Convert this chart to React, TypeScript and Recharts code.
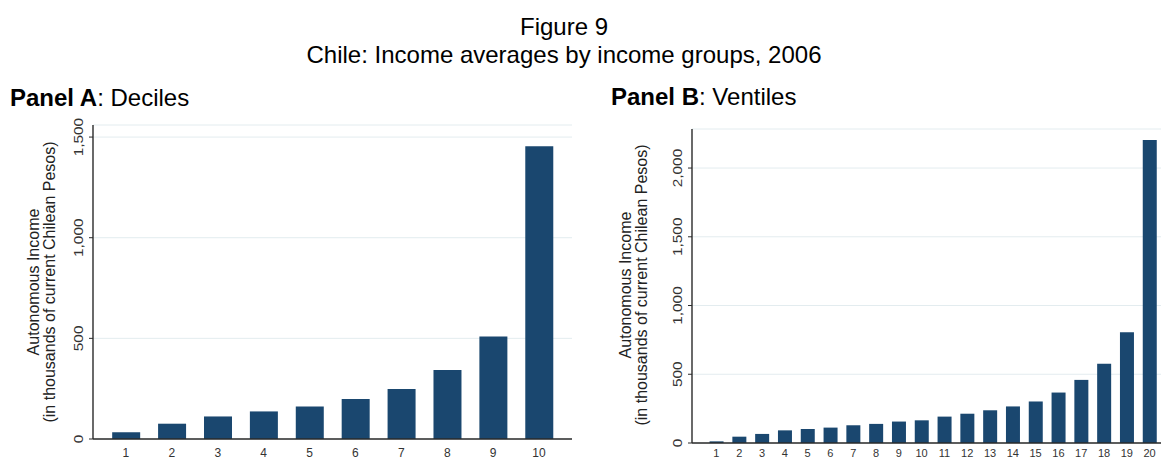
import React from 'react';
import { BarChart, Bar, XAxis, YAxis, CartesianGrid } from 'recharts';

const decileLabels = ['1', '2', '3', '4', '5', '6', '7', '8', '9', '10'];
const decileIncome = [33, 76, 112, 137, 162, 199, 248, 343, 509, 1455];

const ventileLabels = ['1', '2', '3', '4', '5', '6', '7', '8', '9', '10', '11', '12', '13', '14', '15', '16', '17', '18', '19', '20'];
const ventileIncome = [12, 46, 66, 92, 102, 112, 129, 139, 156, 165, 192, 213, 238, 266, 302, 367, 459, 576, 805, 2204];

const decileTicks = [0, 500, 1000, 1500];
const ventileTicks = [0, 500, 1000, 1500, 2000];

const titleLine1 = 'Figure 9';
const titleLine2 = 'Chile: Income averages by income groups, 2006';
const yTitle1 = 'Autonomous Income';
const yTitle2 = '(in thousands of current Chilean Pesos)';

const FONT = '"Liberation Sans", Arial, sans-serif';
const BAR = '#1a476f';
const AXIS = '#2a2a2a';
const GRID = '#e3ecef';

const decileData = decileLabels.map((g, i) => ({ group: g, value: decileIncome[i] }));
const ventileData = ventileLabels.map((g, i) => ({ group: g, value: ventileIncome[i] }));

const fmt = (v: number) => v.toLocaleString('en-US');

const RotTick = (props: any) => {
  const { x, y, payload } = props;
  return (
    <g transform={`translate(${x - 8},${y}) rotate(-90) scale(1.1,0.9)`}>
      <text textAnchor="middle" dominantBaseline="central" fontSize={14} fill="#333" fontFamily={FONT}>
        {fmt(payload.value)}
      </text>
    </g>
  );
};

export default function App() {
  return (
    <div style={{ position: 'absolute', left: 0, top: 0, width: 1161, height: 459, background: '#fff', overflow: 'hidden', fontFamily: FONT }}>
      <div style={{ position: 'absolute', left: 0, top: 0 }}>
        <BarChart width={580} height={459} data={decileData} margin={{ top: 125, right: 8, bottom: 0, left: 33 }} barCategoryGap="20%">
          <CartesianGrid horizontal={true} vertical={false} stroke={GRID} strokeWidth={1} />
          <XAxis
            dataKey="group"
            height={20}
            padding={{ left: 10, right: 10 }}
            tickLine={false}
            tickSize={6}
            tickMargin={3}
            axisLine={{ stroke: AXIS, strokeWidth: 1.4 }}
            tick={{ fontSize: 12, fill: '#333', fontFamily: FONT }}
            interval={0}
          />
          <YAxis
            width={60}
            domain={[0, 1560]}
            ticks={decileTicks}
            tickSize={4}
            tickMargin={2}
            tickLine={{ stroke: AXIS }}
            axisLine={{ stroke: AXIS, strokeWidth: 1.4 }}
            tick={<RotTick />}
            allowDataOverflow
          />
          <Bar dataKey="value" fill={BAR} isAnimationActive={false} />
        </BarChart>
      </div>
      <div style={{ position: 'absolute', left: 590, top: 0 }}>
        <BarChart width={571} height={459} data={ventileData} margin={{ top: 129, right: 0, bottom: 0, left: 42 }} barCategoryGap="20%">
          <CartesianGrid horizontal={true} vertical={false} stroke={GRID} strokeWidth={1} />
          <XAxis
            dataKey="group"
            height={16}
            padding={{ left: 13, right: 0 }}
            tickLine={false}
            tickSize={5}
            tickMargin={1}
            axisLine={{ stroke: AXIS, strokeWidth: 1.4 }}
            tick={{ fontSize: 11, fill: '#333', fontFamily: FONT }}
            interval={0}
          />
          <YAxis
            width={60}
            domain={[0, 2284]}
            ticks={ventileTicks}
            tickSize={4}
            tickMargin={2}
            tickLine={{ stroke: AXIS }}
            axisLine={{ stroke: AXIS, strokeWidth: 1.4 }}
            tick={<RotTick />}
            allowDataOverflow
          />
          <Bar dataKey="value" fill={BAR} isAnimationActive={false} />
        </BarChart>
      </div>
      <svg width={1161} height={459} style={{ position: 'absolute', left: 0, top: 0, pointerEvents: 'none' }}>
        <g fontFamily={FONT} fill="#000">
          <text x={564} y={35} textAnchor="middle" fontSize={24}>{titleLine1}</text>
          <text x={564} y={63} textAnchor="middle" fontSize={24}>{titleLine2}</text>
          <text x={10} y={106} fontSize={24}>
            <tspan fontWeight="bold">Panel A</tspan>
            <tspan>: Deciles</tspan>
          </text>
          <text x={611} y={105} fontSize={24}>
            <tspan fontWeight="bold">Panel B</tspan>
            <tspan>: Ventiles</tspan>
          </text>
        </g>
        <g fontFamily={FONT} fill="#222" fontSize={16}>
          <g transform="translate(33,282) rotate(-90)">
            <text textAnchor="middle" dominantBaseline="central">{yTitle1}</text>
          </g>
          <g transform="translate(49,282) rotate(-90)">
            <text textAnchor="middle" dominantBaseline="central">{yTitle2}</text>
          </g>
          <g transform="translate(625,285) rotate(-90)">
            <text textAnchor="middle" dominantBaseline="central">{yTitle1}</text>
          </g>
          <g transform="translate(641.5,285) rotate(-90)">
            <text textAnchor="middle" dominantBaseline="central">{yTitle2}</text>
          </g>
        </g>
      </svg>
    </div>
  );
}
